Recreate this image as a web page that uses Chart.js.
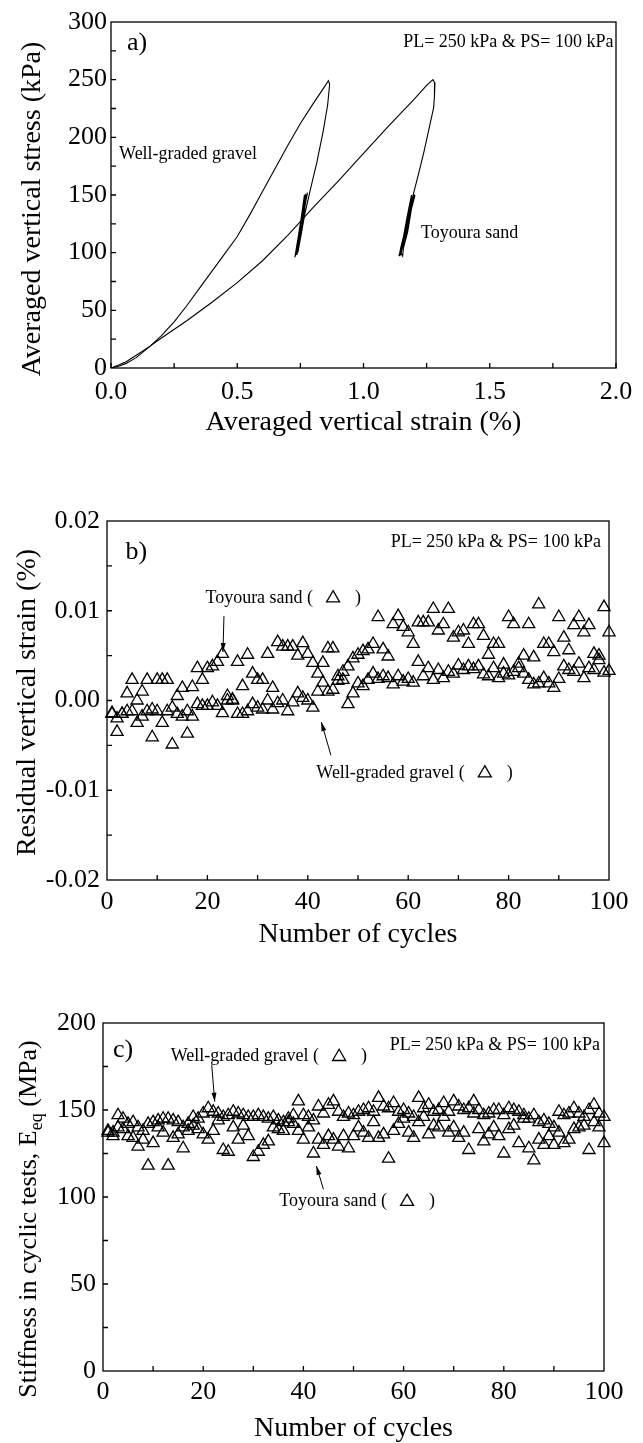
<!DOCTYPE html>
<html>
<head>
<meta charset="utf-8">
<script src="https://cdn.jsdelivr.net/npm/chart.js@4.4.0/dist/chart.umd.min.js"></script>
<style>
  html, body { margin: 0; padding: 0; background: #fff; }
  #wrap { position: relative; width: 643px; height: 1443px; }
  .panel { position: absolute; left: 0; width: 643px; }
</style>
</head>
<body>
<div id="wrap">
  <div class="panel" style="top:0;height:460px"><canvas id="chartA"></canvas></div>
  <div class="panel" style="top:470px;height:490px"><canvas id="chartB"></canvas></div>
  <div class="panel" style="top:970px;height:473px"><canvas id="chartC"></canvas></div>
</div>
<script>
// a) stress-strain paths (strain %, stress kPa)
const gravelStrain = [0, 0.03, 0.06, 0.1, 0.155, 0.2, 0.25, 0.3, 0.35, 0.4, 0.45, 0.5, 0.55, 0.6, 0.65, 0.7, 0.75, 0.8, 0.84, 0.861,
  0.866, 0.858, 0.84, 0.815, 0.79, 0.768, 0.755, 0.74,
  0.748, 0.762, 0.772, 0.754, 0.738, 0.730, 0.744, 0.760, 0.766, 0.748, 0.733, 0.745, 0.760, 0.776, 0.756, 0.736,
  0.750, 0.766, 0.770, 0.752, 0.729, 0.741, 0.757, 0.765, 0.778, 0.762, 0.745, 0.734, 0.752, 0.767, 0.769, 0.747, 0.728];
const gravelStress = [0, 1.5, 4, 9, 19, 28, 40, 54, 69, 84, 99, 114, 133, 153, 173, 193, 212, 229, 242, 249,
  246, 228, 205, 178, 155, 134, 118, 100,
  112, 130, 150, 125, 104, 97, 112, 134, 150, 122, 100, 110, 130, 151, 126, 98,
  115, 140, 151, 128, 97, 105, 125, 140, 152, 133, 110, 98, 118, 138, 149, 117, 96];
const sandStrain = [0, 0.03, 0.06, 0.1, 0.155, 0.2, 0.3, 0.4, 0.5, 0.6, 0.7, 0.75, 0.8, 0.9, 1.0, 1.1, 1.2, 1.25, 1.275,
  1.283, 1.281, 1.278, 1.26, 1.24, 1.22, 1.2, 1.185, 1.17, 1.155, 1.148,
  1.16, 1.182, 1.2, 1.178, 1.16, 1.143, 1.163, 1.184, 1.19, 1.17, 1.152, 1.14, 1.16, 1.18, 1.194, 1.165, 1.148, 1.155,
  1.158, 1.175, 1.19, 1.204, 1.19, 1.163, 1.147, 1.142, 1.152, 1.165, 1.18, 1.198, 1.172, 1.155, 1.144];
const sandStress = [0, 2.5, 5.5, 11, 19, 26, 41, 57, 74, 93, 115, 127, 139, 162, 186, 210, 233, 245, 250,
  247, 236, 226, 208, 188, 170, 153, 140, 125, 108, 98,
  112, 130, 151, 135, 115, 97, 110, 132, 150, 128, 103, 97, 112, 128, 148, 122, 100, 97,
  104, 118, 138, 150, 140, 118, 104, 98, 106, 116, 134, 150, 130, 110, 97];

// b) residual vertical strain (%) per cycle
const sandResidual = [
  -0.0015, -0.0035, -0.0015, 0.0008, 0.0023, 0.0000, 0.0010, 0.0023, -0.0041, 0.0023,
  0.0023, 0.0023, -0.0049, 0.0005, 0.0014, -0.0037, 0.0015, 0.0036, 0.0023, 0.0036,
  0.0038, 0.0043, 0.0052, 0.0005, 0.0001, 0.0043, 0.0016, 0.0051, 0.0030, 0.0023,
  0.0023, 0.0052, 0.0014, 0.0065, 0.0060, 0.0060, 0.0060, 0.0050, 0.0064, 0.0052,
  0.0042, 0.0030, 0.0042, 0.0058, 0.0058, 0.0027, 0.0032, 0.0038, 0.0047, 0.0051,
  0.0055, 0.0057, 0.0063, 0.0093, 0.0057, 0.0049, 0.0085, 0.0094, 0.0082, 0.0076,
  0.0063, 0.0087, 0.0087, 0.0087, 0.0102, 0.0078, 0.0085, 0.0102, 0.0070, 0.0076,
  0.0078, 0.0063, 0.0085, 0.0085, 0.0072, 0.0051, 0.0063, 0.0063, 0.0040, 0.0093,
  0.0085, 0.0041, 0.0050, 0.0085, 0.0048, 0.0107, 0.0063, 0.0063, 0.0054, 0.0093,
  0.0070, 0.0056, 0.0084, 0.0093, 0.0076, 0.0084, 0.0052, 0.0045, 0.0104, 0.0076];
const gravelResidual = [
  -0.0014, -0.0020, -0.0015, -0.0012, -0.0012, -0.0025, -0.0018, -0.0012, -0.0010, -0.0012,
  -0.0025, -0.0012, -0.0008, -0.0015, -0.0018, -0.0012, -0.0018, -0.0004, -0.0006, -0.0006,
  -0.0002, -0.0006, -0.0014, 0.0000, 0.0000, -0.0015, -0.0015, -0.0012, -0.0004, -0.0008,
  -0.0010, 0.0000, -0.0010, -0.0003, 0.0000, -0.0012, -0.0002, 0.0008, 0.0003, 0.0000,
  -0.0008, 0.0010, 0.0020, 0.0010, 0.0012, 0.0022, 0.0023, -0.0004, 0.0008, 0.0019,
  0.0016, 0.0023, 0.0030, 0.0024, 0.0027, 0.0025, 0.0018, 0.0027, 0.0021, 0.0024,
  0.0020, 0.0043, 0.0027, 0.0036, 0.0023, 0.0034, 0.0025, 0.0032, 0.0030, 0.0039,
  0.0034, 0.0038, 0.0035, 0.0038, 0.0029, 0.0027, 0.0036, 0.0025, 0.0030, 0.0028,
  0.0032, 0.0036, 0.0030, 0.0023, 0.0018, 0.0019, 0.0025, 0.0019, 0.0014, 0.0024,
  0.0038, 0.0034, 0.0032, 0.0041, 0.0025, 0.0036, 0.0034, 0.0050, 0.0031, 0.0033];

// c) stiffness E_eq (MPa) per cycle
const gravelStiffness = [
  138, 137, 147, 145, 142, 143, 140, 138, 142, 143,
  144, 145, 145, 144, 143, 140, 142, 146, 145, 148,
  151, 149, 148, 146, 147, 149, 148, 147, 146, 146,
  147, 146, 145, 146, 144, 143, 145, 147, 155, 147,
  146, 144, 152, 148, 153, 155, 149, 146, 148, 147,
  149, 150, 151, 149, 157, 152, 151, 154, 149, 150,
  148, 146, 157, 151, 153, 149, 150, 154, 149, 155,
  152, 150, 151, 155, 150, 147, 148, 150, 150, 147,
  151, 150, 149, 147, 145, 147, 143, 144, 142, 140,
  149, 147, 148, 151, 148, 146, 150, 153, 148, 146];
const sandStiffness = [
  137, 135, 140, 139, 135, 134, 129, 133, 118, 131,
  140, 137, 118, 134, 136, 128, 138, 141, 139, 136,
  133, 138, 144, 127, 126, 140, 133, 141, 135, 123,
  126, 130, 132, 140, 139, 138, 143, 142, 138, 133,
  140, 125, 133, 130, 135, 133, 129, 135, 128, 135,
  140, 137, 134, 143, 134, 136, 122, 138, 142, 145,
  137, 134, 143, 146, 136, 141, 140, 146, 137, 140,
  134, 137, 127, 148, 139, 132, 136, 140, 135, 125,
  139, 141, 131, 145, 128, 121, 133, 130, 135, 130,
  137, 131, 133, 139, 140, 141, 127, 143, 140, 131];

// tick values and labels
const strainTicks = [0, 0.5, 1, 1.5, 2];
const strainLabels = ['0.0', '0.5', '1.0', '1.5', '2.0'];
const strainMinor = [0, 0.25, 0.5, 0.75, 1, 1.25, 1.5, 1.75, 2];
const stressTicks = [0, 50, 100, 150, 200, 250, 300];
const stressMinor = [25, 50, 75, 100, 125, 150, 175, 200, 225, 250, 275];
const cycleTicks = [0, 20, 40, 60, 80, 100];
const cycleMinor = [10, 20, 30, 40, 50, 60, 70, 80, 90];
const residualTicks = [-0.02, -0.01, 0, 0.01, 0.02];
const residualLabels = ['-0.02', '-0.01', '0.00', '0.01', '0.02'];
const residualMinor = [-0.015, -0.01, -0.005, 0, 0.005, 0.01, 0.015];
const stiffnessTicks = [0, 50, 100, 150, 200];
const stiffnessMinor = [25, 50, 75, 100, 125, 150, 175];

const cycles = gravelResidual.map((_, i) => i + 1);
const FONT = "'Liberation Serif', 'Times New Roman', serif";

Chart.defaults.font.family = FONT;
Chart.defaults.color = '#000';

function pts(xs, ys) {
  return xs.map((x, i) => ({ x: x, y: ys[i] }));
}

function axis(o) {
  return {
    type: 'linear', min: o.min, max: o.max,
    grid: { display: false, drawTicks: false },
    border: { display: false },
    afterBuildTicks: s => { s.ticks = o.ticks.map(v => ({ value: v })); },
    afterFit: s => {
      if (o.width) s.width = o.width;
      if (o.height) s.height = o.height;
    },
    ticks: {
      padding: o.pad, autoSkip: false, maxRotation: 0,
      font: { size: 26 }, color: '#000',
      callback: (v, i) => o.labels ? o.labels[i] : String(v)
    },
    title: {
      display: !!o.title, text: o.title, color: '#000',
      font: { size: 28, lineHeight: 1 }, padding: o.titlePad || 0
    }
  };
}

function triangle(ctx, x, y, r) {
  ctx.beginPath();
  ctx.moveTo(x, y - r);
  ctx.lineTo(x + r * 0.866, y + r * 0.5);
  ctx.lineTo(x - r * 0.866, y + r * 0.5);
  ctx.closePath();
  ctx.stroke();
}

// box, inward ticks, y title and the notes written on the plot
function frame(spec) {
  return {
    id: 'frame',
    afterDraw(chart) {
      const { ctx, chartArea: a, scales: { x, y } } = chart;
      ctx.save();
      ctx.strokeStyle = '#000';
      ctx.fillStyle = '#000';
      ctx.lineWidth = 1.3;
      ctx.strokeRect(a.left, a.top, a.right - a.left, a.bottom - a.top);
      ctx.beginPath();
      spec.xMinor.forEach(v => {
        const px = x.getPixelForValue(v);
        ctx.moveTo(px, a.bottom); ctx.lineTo(px, a.bottom - 5);
      });
      spec.yMinor.forEach(v => {
        const py = y.getPixelForValue(v);
        ctx.moveTo(a.left, py); ctx.lineTo(a.left + 5, py);
      });
      ctx.stroke();

      ctx.textBaseline = 'middle';
      ctx.lineWidth = 1.3;
      spec.notes.forEach(n => {
        const px = x.getPixelForValue(n.x);
        const py = y.getPixelForValue(n.y);
        ctx.font = (n.size || 18) + 'px ' + FONT;
        ctx.textAlign = n.align || 'left';
        ctx.fillText(n.text, px, py);
        if (n.mark) {
          const end = px + ctx.measureText(n.text).width;
          triangle(ctx, end + 20, py, 7.5);
          ctx.fillText(')', end + 42, py);
        }
      });

      ctx.lineWidth = 1;
      spec.arrows.forEach(r => {
        const x1 = x.getPixelForValue(r.x1), y1 = y.getPixelForValue(r.y1);
        const x2 = x.getPixelForValue(r.x2), y2 = y.getPixelForValue(r.y2);
        const ang = Math.atan2(y2 - y1, x2 - x1);
        ctx.beginPath();
        ctx.moveTo(x1, y1); ctx.lineTo(x2, y2);
        ctx.stroke();
        ctx.beginPath();
        ctx.moveTo(x2, y2);
        ctx.lineTo(x2 - 9 * Math.cos(ang) + 2.5 * Math.sin(ang), y2 - 9 * Math.sin(ang) - 2.5 * Math.cos(ang));
        ctx.lineTo(x2 - 9 * Math.cos(ang) - 2.5 * Math.sin(ang), y2 - 9 * Math.sin(ang) + 2.5 * Math.cos(ang));
        ctx.closePath();
        ctx.fill();
      });

      const t = spec.yTitle;
      ctx.translate(t.x, (a.top + a.bottom) / 2 + t.dy);
      ctx.rotate(-Math.PI / 2);
      ctx.textAlign = 'left';
      const big = t.size + 'px ' + FONT;
      const small = Math.round(t.size * 0.68) + 'px ' + FONT;
      ctx.font = big;
      const w1 = ctx.measureText(t.main).width;
      const w3 = ctx.measureText(t.tail || '').width;
      ctx.font = small;
      const w2 = t.sub ? ctx.measureText(t.sub).width : 0;
      const sx = -(w1 + w2 + w3) / 2;
      ctx.font = big;
      ctx.fillText(t.main, sx, 0);
      if (t.sub) {
        ctx.font = small;
        ctx.fillText(t.sub, sx + w1, 8);
        ctx.font = big;
        ctx.fillText(t.tail, sx + w1 + w2, 0);
      }
      ctx.restore();
    }
  };
}

const markerSet = {
  showLine: false, pointStyle: 'triangle', pointRadius: 7,
  borderColor: '#000', backgroundColor: 'rgba(0,0,0,0)', pointBorderWidth: 1.3, clip: 10
};

const base = {
  animation: false, responsive: true, maintainAspectRatio: false,
  devicePixelRatio: 1, events: [],
  plugins: { legend: { display: false }, tooltip: { enabled: false } }
};

// a)
new Chart(document.getElementById('chartA'), {
  type: 'scatter',
  data: {
    datasets: [
      { label: 'Well-graded gravel', data: pts(gravelStrain, gravelStress), showLine: true,
        borderColor: '#000', borderWidth: 1.1, pointRadius: 0, tension: 0 },
      { label: 'Toyoura sand', data: pts(sandStrain, sandStress), showLine: true,
        borderColor: '#000', borderWidth: 1.1, pointRadius: 0, tension: 0 }
    ]
  },
  options: Object.assign({}, base, {
    layout: { padding: { top: 22, right: 27, left: 0, bottom: 0 } },
    scales: {
      x: axis({ min: 0, max: 2, ticks: strainTicks, labels: strainLabels, height: 92, pad: 9,
        title: 'Averaged vertical strain (%)', titlePad: { top: 0, bottom: 23 } }),
      y: axis({ min: 0, max: 300, ticks: stressTicks, width: 111, pad: 4 })
    }
  }),
  plugins: [frame({
    xMinor: strainMinor, yMinor: stressMinor,
    yTitle: { x: 33, dy: 14, size: 28, main: 'Averaged vertical stress (kPa)' },
    notes: [
      { text: 'a)', x: 0.063, y: 282, size: 26 },
      { text: 'PL= 250 kPa & PS= 100 kPa', x: 1.99, y: 282, align: 'right' },
      { text: 'Well-graded gravel', x: 0.032, y: 185 },
      { text: 'Toyoura sand', x: 1.228, y: 117 }
    ],
    arrows: []
  })]
});

// b)
new Chart(document.getElementById('chartB'), {
  type: 'scatter',
  data: {
    datasets: [
      Object.assign({ label: 'Toyoura sand', data: pts(cycles, sandResidual) }, markerSet),
      Object.assign({ label: 'Well-graded gravel', data: pts(cycles, gravelResidual) }, markerSet)
    ]
  },
  options: Object.assign({}, base, {
    layout: { padding: { top: 51, right: 34, left: 0, bottom: 0 } },
    scales: {
      x: axis({ min: 0, max: 100, ticks: cycleTicks, height: 80, pad: 7,
        title: 'Number of cycles', titlePad: { top: 0, bottom: 11 } }),
      y: axis({ min: -0.02, max: 0.02, ticks: residualTicks, labels: residualLabels, width: 107, pad: 7 })
    }
  }),
  plugins: [frame({
    xMinor: cycleMinor, yMinor: residualMinor,
    yTitle: { x: 28, dy: 2, size: 28, main: 'Residual vertical strain (%)' },
    notes: [
      { text: 'b)', x: 3.7, y: 0.0165, size: 26 },
      { text: 'PL= 250 kPa & PS= 100 kPa', x: 98.4, y: 0.0176, align: 'right' },
      { text: 'Toyoura sand (', x: 19.6, y: 0.0114, mark: true },
      { text: 'Well-graded gravel (', x: 41.7, y: -0.0081, mark: true }
    ],
    arrows: [
      { x1: 23.3, y1: 0.0094, x2: 23.1, y2: 0.0054 },
      { x1: 44.6, y1: -0.0061, x2: 42.7, y2: -0.0024 }
    ]
  })]
});

// c)
new Chart(document.getElementById('chartC'), {
  type: 'scatter',
  data: {
    datasets: [
      Object.assign({ label: 'Well-graded gravel', data: pts(cycles, gravelStiffness) }, markerSet),
      Object.assign({ label: 'Toyoura sand', data: pts(cycles, sandStiffness) }, markerSet)
    ]
  },
  options: Object.assign({}, base, {
    layout: { padding: { top: 53, right: 39, left: 0, bottom: 0 } },
    scales: {
      x: axis({ min: 0, max: 100, ticks: cycleTicks, height: 72, pad: 6,
        title: 'Number of cycles', titlePad: { top: 0, bottom: 0 } }),
      y: axis({ min: 0, max: 200, ticks: stiffnessTicks, width: 103, pad: 7 })
    }
  }),
  plugins: [frame({
    xMinor: cycleMinor, yMinor: stiffnessMinor,
    yTitle: { x: 29, dy: 22, size: 26, main: 'Stiffness in cyclic tests, E', sub: 'eq', tail: ' (MPa)' },
    notes: [
      { text: 'c)', x: 2.0, y: 184.5, size: 26 },
      { text: 'PL= 250 kPa & PS= 100 kPa', x: 99.2, y: 187.4, align: 'right' },
      { text: 'Well-graded gravel (', x: 13.5, y: 180.6, mark: true },
      { text: 'Toyoura sand (', x: 35.2, y: 97.3, mark: true }
    ],
    arrows: [
      { x1: 21.7, y1: 175.9, x2: 22.3, y2: 154.8 },
      { x1: 44, y1: 104.4, x2: 42.6, y2: 117.8 }
    ]
  })]
});
</script>
</body>
</html>
